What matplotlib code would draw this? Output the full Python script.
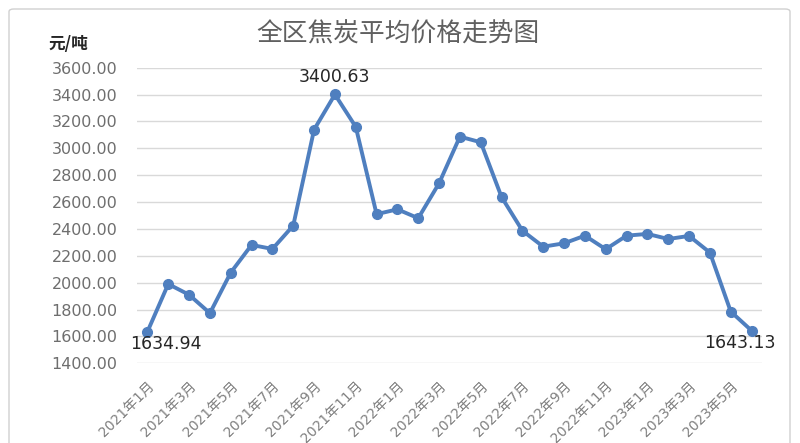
import matplotlib
matplotlib.use("Agg")
import matplotlib.pyplot as plt
from matplotlib.patches import FancyBboxPatch

plt.rcParams['font.family'] = ['DejaVu Sans', 'Noto Sans CJK SC']

months = [f"{y}年{m}月" for y, ms in ((2021, range(1, 13)), (2022, range(1, 13)), (2023, range(1, 7))) for m in ms]
prices = [1634.94, 1990, 1910, 1773, 2075, 2281, 2251, 2425, 3139, 3400.63,
          3160, 2510, 2546, 2480, 2740, 3087, 3045, 2637, 2387, 2268,
          2293, 2350, 2249, 2350, 2363, 2325, 2348, 2224, 1785, 1643.13]
yticks = [1400, 1600, 1800, 2000, 2200, 2400, 2600, 2800, 3000, 3200, 3400, 3600]
labeled = {0: 'below', 9: 'above', 29: 'below'}

fig = plt.figure(figsize=(8, 4.43), dpi=100)
fig.patch.set_facecolor('white')
border = FancyBboxPatch((9/800, -0.05), 781/800, 1 - 9/443 + 0.05,
                        boxstyle="round,pad=0,rounding_size=0.006",
                        transform=fig.transFigure, fill=False,
                        edgecolor='#D0D0D0', linewidth=1.0)
fig.patches.append(border)

ax = fig.add_axes([137/800, 1 - 363.3/443, (762 - 137)/800, (363.3 - 67.7)/443])
x = list(range(len(months)))
ax.plot(x, prices, color='#4F7FBF', linewidth=2.8, marker='o', markersize=7,
        markerfacecolor='#4F7FBF', markeredgecolor='#4F7FBF', zorder=3)
ax.set_xlim(-0.5, len(months) - 0.5)
ax.set_ylim(1400, 3600)
ax.set_yticks(yticks)
ax.set_yticklabels([f"{v:.2f}" for v in yticks], fontsize=11.5, color='#6E6E6E')
ax.set_xticks(x[::2])
ax.set_xticklabels(months[::2], rotation=45, ha='right', rotation_mode='anchor',
                   fontsize=10, color='#7F7F7F')
ax.tick_params(axis='both', length=0)
ax.tick_params(axis='y', pad=14)
ax.tick_params(axis='x', pad=11)
ax.grid(axis='y', color='#D9D9D9', linewidth=1.0)
ax.set_axisbelow(True)
for s in ax.spines.values():
    s.set_visible(False)

for i, pos in labeled.items():
    if pos == 'above':
        ax.annotate(f"{prices[i]:.2f}", (x[i], prices[i]), xytext=(0, 17),
                    textcoords='offset pixels', ha='center', va='center',
                    fontsize=12.5, color='#262626')
    else:
        ax.annotate(f"{prices[i]:.2f}", (x[i], prices[i]), xytext=(-12 if i == 29 else 18, -12),
                    textcoords='offset pixels', ha='center', va='center',
                    fontsize=12.5, color='#262626')

fig.text(398/800, 1 - 35/443, "全区焦炭平均价格走势图", ha='center', va='center',
         fontsize=18.5, color='#606060', family=['Noto Sans CJK SC'])
fig.text(48/800, 1 - 44/443, "元/吨", ha='left', va='center', fontsize=12,
         fontweight='bold', color='#262626', family=['Noto Sans CJK SC'])

fig.savefig("out.png", dpi=100, facecolor='white')
